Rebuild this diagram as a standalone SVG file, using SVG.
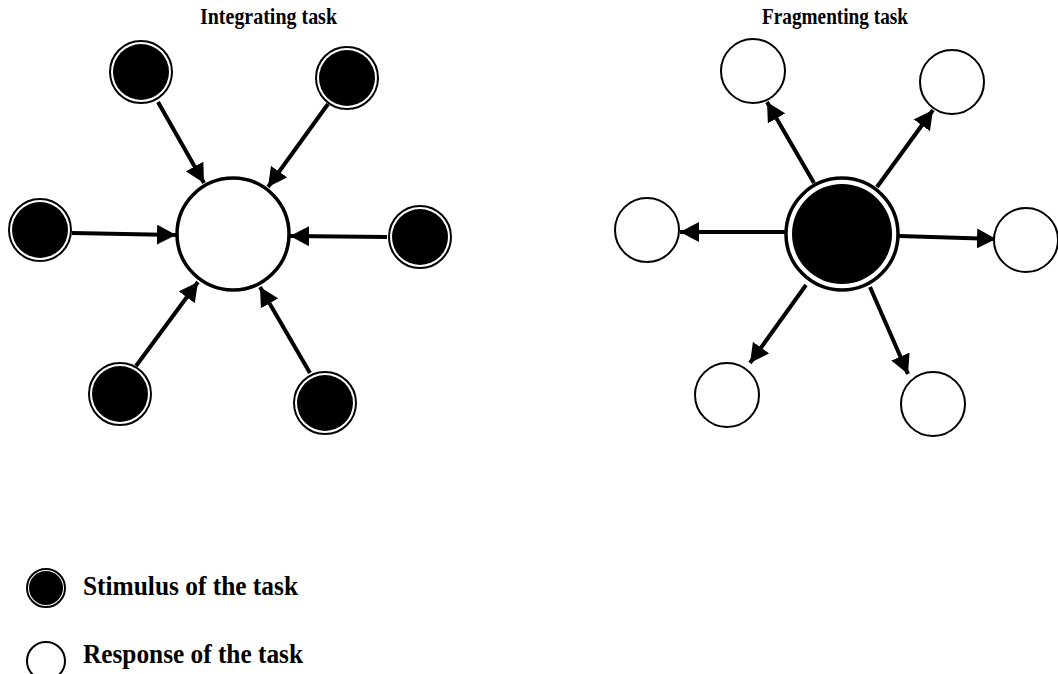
<svg xmlns="http://www.w3.org/2000/svg" width="1058" height="674" viewBox="0 0 1058 674">
<defs>
<marker id="ah" markerUnits="userSpaceOnUse" markerWidth="20" markerHeight="20" refX="19" refY="10" orient="auto">
<path d="M0,0 L19,10 L0,20 Z" fill="#000"/>
</marker>
</defs>
<style>
.t{font-family:"Liberation Serif","Times New Roman",serif;font-weight:bold;fill:#000}
.ring{fill:#fff;stroke:#000;stroke-width:2}
.dot{fill:#000}
.resp{fill:#fff;stroke:#000;stroke-width:2}
.c{stroke:#000;stroke-width:4;fill:none;marker-end:url(#ah)}
</style>
<rect width="1058" height="674" fill="#fff"/>
<text class="t" x="200" y="24" font-size="23" textLength="137" lengthAdjust="spacingAndGlyphs">Integrating task</text>
<text class="t" x="762" y="24" font-size="23" textLength="146" lengthAdjust="spacingAndGlyphs">Fragmenting task</text>

<g id="connectors">
<line class="c" x1="158" y1="102" x2="204" y2="183"/>
<line class="c" x1="328" y1="104" x2="268" y2="187"/>
<line class="c" x1="72" y1="233" x2="176" y2="235"/>
<line class="c" x1="387" y1="237" x2="290" y2="236"/>
<line class="c" x1="136" y1="366" x2="198" y2="282"/>
<line class="c" x1="310" y1="373" x2="260" y2="287"/>
<line class="c" x1="814" y1="183" x2="767" y2="102"/>
<line class="c" x1="877" y1="187" x2="933" y2="110"/>
<line class="c" x1="785" y1="232" x2="680" y2="232"/>
<line class="c" x1="899" y1="236" x2="996" y2="239"/>
<line class="c" x1="806" y1="285" x2="750" y2="363"/>
<line class="c" x1="870" y1="287" x2="908" y2="374"/>
</g>

<g id="int-center"><circle cx="233" cy="234" r="56" fill="#fff" stroke="#000" stroke-width="3.5"/></g>
<g id="int-s1"><circle class="ring" cx="141" cy="72" r="31"/><circle class="dot" cx="141" cy="72" r="28"/></g>
<g id="int-s2"><circle class="ring" cx="347" cy="78" r="31"/><circle class="dot" cx="347" cy="78" r="28"/></g>
<g id="int-s3"><circle class="ring" cx="40" cy="230" r="31"/><circle class="dot" cx="40" cy="230" r="28"/></g>
<g id="int-s4"><circle class="ring" cx="420" cy="237" r="31"/><circle class="dot" cx="420" cy="237" r="28"/></g>
<g id="int-s5"><circle class="ring" cx="120" cy="394" r="31"/><circle class="dot" cx="120" cy="394" r="28"/></g>
<g id="int-s6"><circle class="ring" cx="325" cy="403" r="31"/><circle class="dot" cx="325" cy="403" r="28"/></g>

<g id="frag-center"><circle cx="842" cy="234" r="56" fill="#fff" stroke="#000" stroke-width="3.5"/><circle class="dot" cx="842" cy="234" r="50"/></g>
<g id="frag-r1"><circle class="resp" cx="753" cy="71" r="32"/></g>
<g id="frag-r2"><circle class="resp" cx="952" cy="82" r="32"/></g>
<g id="frag-r3"><circle class="resp" cx="647" cy="230" r="32"/></g>
<g id="frag-r4"><circle class="resp" cx="1026" cy="240" r="32"/></g>
<g id="frag-r5"><circle class="resp" cx="727" cy="395" r="32"/></g>
<g id="frag-r6"><circle class="resp" cx="933" cy="404" r="32"/></g>

<g id="legend-stimulus">
<circle class="ring" cx="46" cy="588" r="19" stroke-width="1.5"/><circle class="dot" cx="46" cy="588" r="17"/>
<text class="t" x="83" y="595" font-size="27" textLength="215" lengthAdjust="spacingAndGlyphs">Stimulus of the task</text>
</g>
<g id="legend-response">
<circle class="resp" cx="46" cy="661" r="19" stroke-width="1.5"/>
<text class="t" x="83" y="663" font-size="27" textLength="220" lengthAdjust="spacingAndGlyphs">Response of the task</text>
</g>
</svg>
